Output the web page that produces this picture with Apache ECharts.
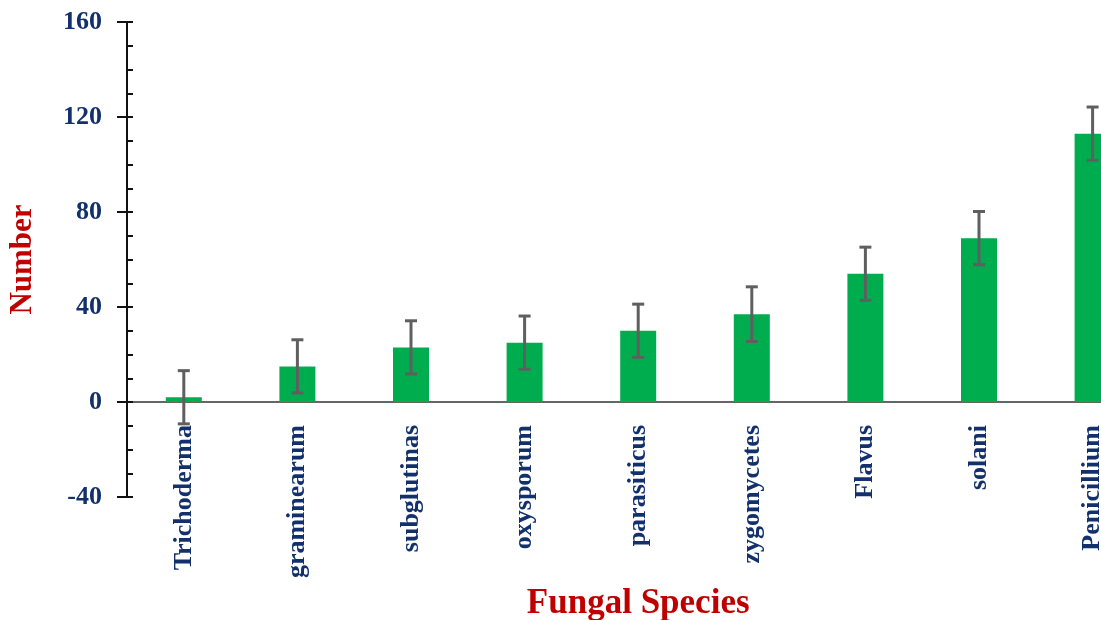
<!DOCTYPE html>
<html>
<head>
<meta charset="utf-8">
<script src="https://cdn.jsdelivr.net/npm/echarts@6/dist/echarts.min.js"></script>
<style>
  html, body { margin: 0; padding: 0; background: #fff; }
  #chart { width: 1101px; height: 620px; }
</style>
</head>
<body>
<div id="chart"></div>
<script>
// Fungal species counts with their error margins
const species = ['Trichoderma', 'graminearum', 'subglutinas', 'oxysporum', 'parasiticus',
                 'zygomycetes', 'Flavus', 'solani', 'Penicillium'];
const counts = [2, 15, 23, 25, 30, 37, 54, 69, 113];
const errors = [11.2, 11.2, 11.2, 11.2, 11.2, 11.5, 11.2, 11.2, 11.2];
const yTicks = { min: -40, max: 160, step: 40 };

const serif = "'Liberation Serif', 'Times New Roman', serif";
const navy = '#12306b';
const red = '#c00000';

const errData = species.map((s, i) => [i, counts[i] - errors[i], counts[i] + errors[i]]);

const chart = echarts.init(document.getElementById('chart'));
chart.setOption({
  animation: false,
  backgroundColor: '#fff',
  grid: {
    left: 127, top: 22, bottom: 123, width: 1022.4,
    containLabel: false, outerBoundsMode: 'none'
  },
  xAxis: {
    type: 'category',
    data: species,
    axisLine: { onZero: true, lineStyle: { color: '#666', width: 2 } },
    axisTick: { show: false },
    axisLabel: {
      // labels hang just under the zero line
      rotate: 90, margin: -72, color: navy,
      fontFamily: serif, fontWeight: 'bold', fontSize: 26
    },
    name: 'Fungal Species',
    nameLocation: 'middle',
    nameGap: 86,
    nameTextStyle: { color: red, fontFamily: serif, fontWeight: 'bold', fontSize: 35 }
  },
  yAxis: [
    {
      type: 'value',
      min: yTicks.min, max: yTicks.max, interval: yTicks.step,
      position: 'left',
      axisLine: { show: true, onZero: false, lineStyle: { color: '#111', width: 2 } },
      axisTick: { show: true, inside: false, length: 10, lineStyle: { color: '#111', width: 2 } },
      splitLine: { show: false },
      axisLabel: { margin: 25, color: navy, fontFamily: serif, fontWeight: 'bold', fontSize: 26 },
      name: 'Number',
      nameLocation: 'middle',
      nameGap: 89,
      nameRotate: 90,
      nameTextStyle: { color: red, fontFamily: serif, fontWeight: 'bold', fontSize: 31 }
    },
    {
      // inner tick marks, including the minor ones
      type: 'value',
      min: yTicks.min, max: yTicks.max, interval: yTicks.step,
      position: 'left',
      offset: 0,
      axisLine: { show: false },
      axisTick: { show: true, inside: true, length: 6, lineStyle: { color: '#111', width: 2 } },
      minorTick: { show: true, splitNumber: 4, length: 6, lineStyle: { color: '#111', width: 2 } },
      splitLine: { show: false },
      axisLabel: { show: false }
    }
  ],
  series: [
    {
      type: 'bar',
      data: counts,
      barWidth: 36,
      itemStyle: { color: '#00ad4e' },
      z: 2
    },
    {
      type: 'custom',
      data: errData,
      z: 5,
      renderItem: function (params, api) {
        const x = api.value(0);
        const lo = api.coord([x, api.value(1)]);
        const hi = api.coord([x, api.value(2)]);
        const cap = 6;
        const style = { stroke: '#5f5f5f', lineWidth: 3 };
        return {
          type: 'group',
          children: [
            { type: 'line', shape: { x1: hi[0], y1: hi[1], x2: lo[0], y2: lo[1] }, style: style },
            { type: 'line', shape: { x1: hi[0] - cap, y1: hi[1], x2: hi[0] + cap, y2: hi[1] }, style: style },
            { type: 'line', shape: { x1: lo[0] - cap, y1: lo[1], x2: lo[0] + cap, y2: lo[1] }, style: style }
          ]
        };
      }
    }
  ]
});
</script>
</body>
</html>
